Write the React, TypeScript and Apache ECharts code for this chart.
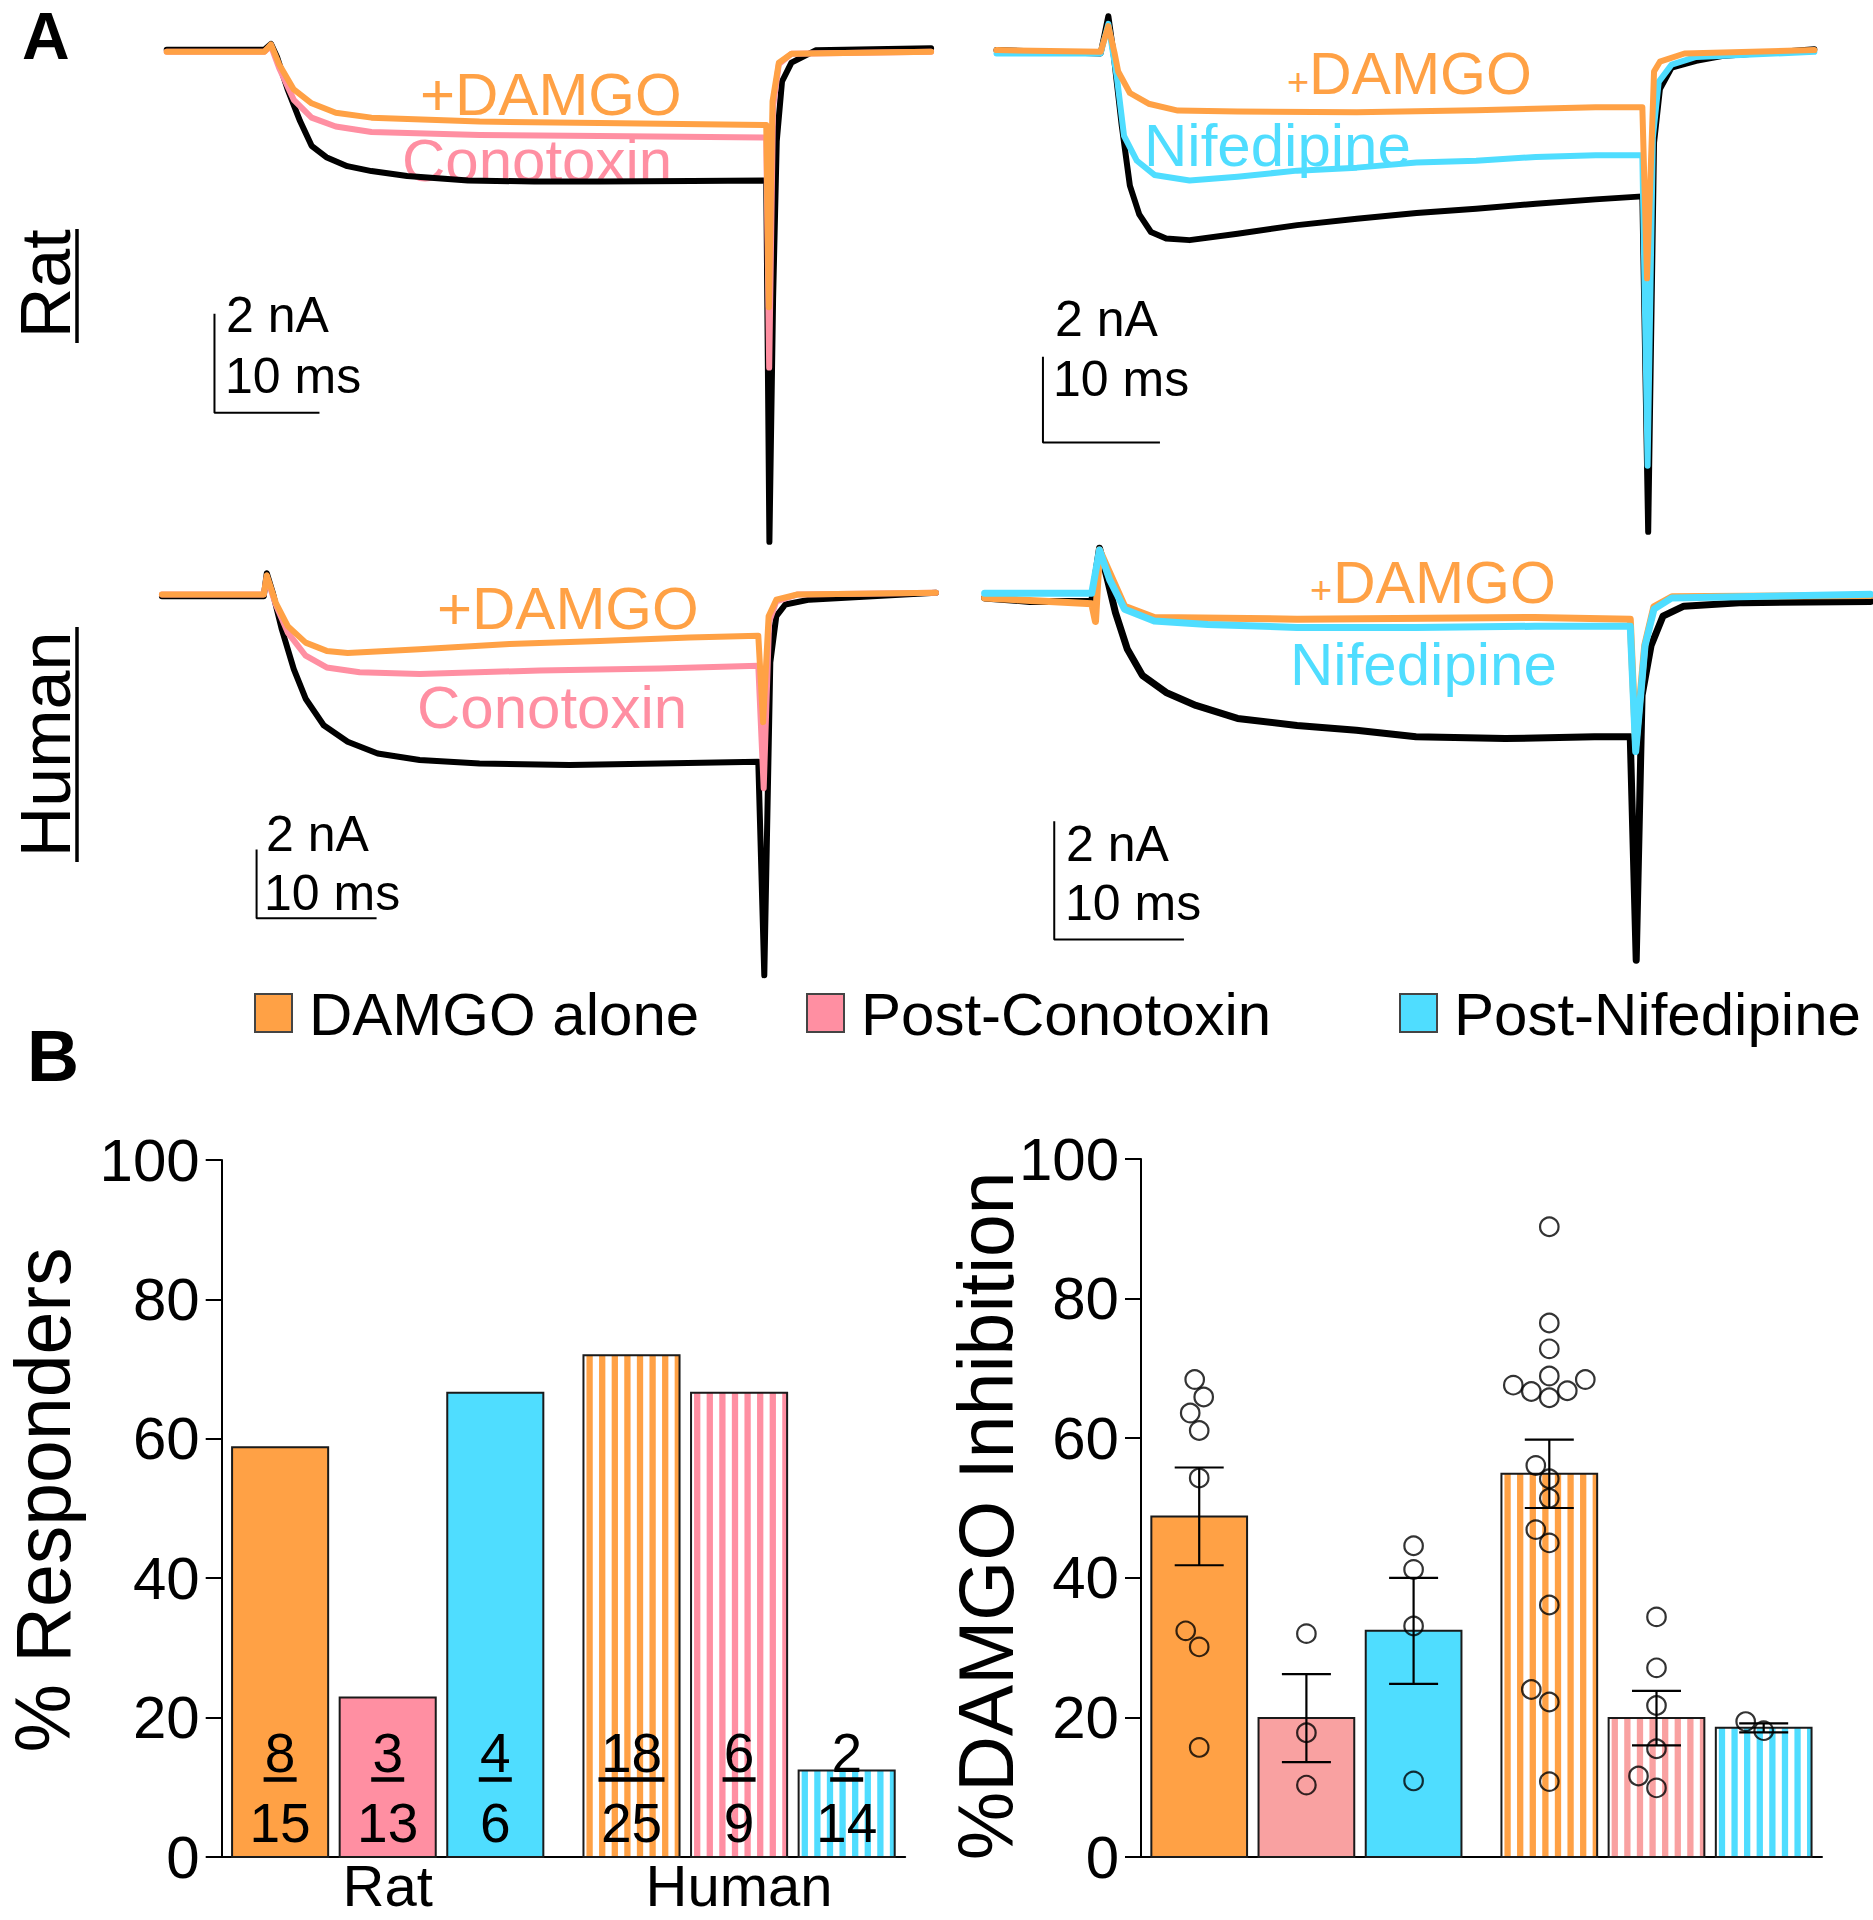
import React, { useEffect, useRef } from "react";
import * as echarts from "echarts";

const W = 1873;
const H = 1920;
const FONT = '"Liberation Sans", Arial, Helvetica, sans-serif';
const CENTRAL = 0.3465; // central baseline above alphabetic baseline (em)
const ORANGE = "#FFA145";
const PINK = "#FF8FA2";
const PINK_LIGHT = "#F9A1A1";
const CYAN = "#4FDDFF";
const BLACK = "#000000";

type Pt = [number, number];

// ---------------- Panel A: current traces (time in ms, current in nA) ----------------
const ratConoBlack: Pt[] = [[0,0.04],[9.3,0.04],[9.93,0.16],[10.5,-0.1],[11.5,-0.75],[12.7,-1.4],[13.8,-1.9],[15.2,-2.13],[17.2,-2.31],[19.5,-2.41],[22.9,-2.51],[28.7,-2.6],[35,-2.62],[41.2,-2.62],[50,-2.61],[57.1,-2.6],[57.4,-9.9],[57.75,-5.0],[58.1,-1.8],[58.6,-0.6],[59.5,-0.22],[61.8,0.03],[72.8,0.07]];
const ratConoPink: Pt[] = [[0,0],[9.3,0],[9.93,0.12],[10.7,-0.32],[12.1,-0.97],[13.8,-1.33],[16.1,-1.51],[19.5,-1.62],[29.8,-1.68],[41.2,-1.7],[57.1,-1.73],[57.38,-6.38],[57.75,-1.1],[58.3,-0.25],[59.5,-0.04],[72.8,0]];
const ratConoOrange: Pt[] = [[0,0],[9.3,0],[9.93,0.15],[10.7,-0.25],[12.1,-0.76],[13.8,-1.04],[16.1,-1.23],[19.5,-1.33],[29.8,-1.41],[41.2,-1.44],[57.1,-1.48],[57.35,-5.16],[57.7,-1.0],[58.3,-0.22],[59.5,-0.04],[72.8,0]];

const ratNifBlack: Pt[] = [[0,0.04],[8.9,-0.04],[9.56,0.83],[10.0,-0.04],[10.7,-1.71],[11.4,-3.12],[12.2,-3.79],[13.2,-4.2],[14.5,-4.35],[16.5,-4.39],[20.6,-4.24],[25.7,-4.04],[30.8,-3.89],[35.9,-3.76],[41.0,-3.66],[46.1,-3.54],[51.2,-3.44],[55.2,-3.37],[55.7,-11.19],[56.2,-2.12],[56.7,-0.87],[57.7,-0.37],[59.8,-0.21],[62,-0.1],[69.9,0.06]];
const ratNifCyan: Pt[] = [[0,-0.04],[8.9,-0.04],[9.56,0.65],[10.3,-0.62],[10.9,-1.96],[12.0,-2.54],[13.5,-2.87],[16.5,-3.0],[20.6,-2.91],[25.7,-2.77],[30.8,-2.7],[35.9,-2.58],[41.0,-2.54],[46.1,-2.45],[51.2,-2.41],[55.2,-2.41],[55.65,-9.65],[56.1,-2.0],[56.6,-0.7],[57.7,-0.3],[59.8,-0.12],[69.9,0]];
const ratNifOrange: Pt[] = [[0,0.04],[8.9,0],[9.56,0.6],[10.1,-0.04],[10.4,-0.46],[11.4,-0.96],[13.0,-1.21],[15.5,-1.37],[20.6,-1.39],[30.8,-1.41],[41.0,-1.36],[51.2,-1.29],[55.2,-1.29],[55.6,-5.28],[56.2,-0.46],[56.7,-0.23],[58.8,-0.04],[69.9,0.04]];

const humConoBlack: Pt[] = [[0,-0.05],[8.49,-0.05],[8.74,0.62],[9.24,0.05],[9.99,-1.01],[10.99,-2.17],[11.98,-3.03],[13.48,-3.8],[15.48,-4.28],[17.98,-4.62],[21.48,-4.81],[26.47,-4.91],[33.97,-4.96],[41.47,-4.91],[49.7,-4.86],[50.2,-11.07],[50.7,-1.97],[51.2,-0.63],[51.95,-0.29],[53.95,-0.15],[64.5,0.05]];
const humConoPink: Pt[] = [[0,0],[8.49,0],[8.74,0.5],[9.49,-0.29],[10.49,-1.11],[11.98,-1.78],[13.73,-2.12],[16.48,-2.26],[21.48,-2.31],[31.47,-2.21],[41.47,-2.15],[49.7,-2.07],[50.15,-5.63],[50.6,-0.8],[51.2,-0.2],[52.95,0],[64.5,0.05]];
const humConoOrange: Pt[] = [[0,0],[8.49,0],[8.74,0.56],[9.49,-0.24],[10.49,-0.92],[11.98,-1.4],[13.73,-1.64],[15.48,-1.7],[21.48,-1.59],[28.97,-1.44],[36.47,-1.35],[43.96,-1.25],[49.7,-1.2],[50.1,-3.71],[50.56,-0.63],[51.2,-0.15],[52.95,0],[64.5,0.05]];

const humNifBlack: Pt[] = [[0,0],[3.49,-0.06],[8.26,-0.06],[8.86,0.84],[9.41,0.37],[10.09,-0.25],[11.01,-0.87],[12.16,-1.31],[13.99,-1.6],[16.29,-1.82],[19.5,-2.04],[24.09,-2.16],[28.67,-2.24],[33.26,-2.35],[40.15,-2.38],[47.02,-2.35],[49.78,-2.35],[50.24,-6.13],[50.69,-1.65],[51.38,-0.81],[52.3,-0.31],[53.91,-0.14],[58.5,-0.08],[68.3,-0.06]];
const humNifOrange: Pt[] = [[0,0],[8.26,-0.1],[8.55,-0.4],[8.86,0.81],[10.79,-0.14],[13.08,-0.33],[24.09,-0.36],[42.44,-0.33],[49.78,-0.36],[50.2,-2.5],[50.9,-0.8],[51.6,-0.15],[53,0.02],[68.3,0.04]];
const humNifCyan: Pt[] = [[0,0.08],[8.26,0.08],[8.86,0.81],[9.64,0.31],[10.79,-0.19],[13.08,-0.39],[17.21,-0.45],[24.09,-0.5],[33.26,-0.5],[42.44,-0.48],[49.78,-0.48],[50.2,-2.6],[50.92,-0.81],[51.61,-0.19],[52.99,0],[68.3,0.06]];

const scaleBarNA = 2;
const scaleBarMs = 10;

// ---------------- Panel B data ----------------
const speciesLabels = ["Rat", "Human"];
const conditionLabels = ["DAMGO alone", "Post-Conotoxin", "Post-Nifedipine"];
const responderPercent = [58.8, 22.9, 66.6, 72.0, 66.6, 12.4];
const responderCount = ["8", "3", "4", "18", "6", "2"];
const testedCount = ["15", "13", "6", "25", "9", "14"];
const inhibitionMean = [48.8, 19.9, 32.4, 54.9, 19.9, 18.5];
const inhibitionSem = [7.0, 6.3, 7.6, 4.9, 3.9, 0.65];
const inhibitionRatDamgo = [65.9, 63.6, 68.4, 61.1, 54.3, 32.4, 30.1, 15.7];
const inhibitionRatCono = [32.0, 17.8, 10.3];
const inhibitionRatNif = [44.6, 41.2, 33.1, 10.9];
const inhibitionHumDamgo = [90.3, 76.5, 72.8, 68.4, 68.9, 66.8, 65.8, 66.7, 67.6, 56.1, 54.2, 51.4, 46.9, 45.0, 36.1, 24.0, 22.2, 10.8];
const inhibitionHumCono = [34.4, 27.1, 21.7, 15.5, 9.9, 11.6];
const inhibitionHumNif = [18.1, 19.4];
const inhibitionPoints = [inhibitionRatDamgo, inhibitionRatCono, inhibitionRatNif, inhibitionHumDamgo, inhibitionHumCono, inhibitionHumNif];

// ---------------- layout ----------------
const SLOT_GAP = 0.266;
const X_MIN = -0.543;
const X_MAX = 5.81;
const BAR_FRAC = 0.893;
const STRIPE_PERIOD = 12.6;
const STRIPE_WIDTH = 6.3;
const STRIPE_PHASE = 3;
const SWARM_STEP = 4.5;
const SWARM_MIN = 18.5;
const slotPos = (i: number) => i + (i >= 3 ? SLOT_GAP : 0);

const tracePanels = [
  { x0: 166.7, y0: 51.8, pxMs: 10.5, pxNA: 49.5, tMax: 73, nMin: -10.2, nMax: 0.6, bar: [4.55, -7.29], width: 6,
    traces: [[ratConoBlack, BLACK], [ratConoPink, PINK], [ratConoOrange, ORANGE]] },
  { x0: 996.5, y0: 51.8, pxMs: 11.7, pxNA: 42.9, tMax: 70.5, nMin: -11.6, nMax: 1.1, bar: [3.97, -9.11], width: 6,
    traces: [[ratNifBlack, BLACK], [ratNifCyan, CYAN], [ratNifOrange, ORANGE]] },
  { x0: 161.9, y0: 594.5, pxMs: 12.0, pxNA: 34.4, tMax: 65, nMin: -11.4, nMax: 1.0, bar: [7.89, -9.41], width: 6,
    traces: [[humConoBlack, BLACK], [humConoPink, PINK], [humConoOrange, ORANGE]] },
  { x0: 984.6, y0: 597.9, pxMs: 12.97, pxNA: 59.1, tMax: 68.4, nMin: -6.4, nMax: 1.0, bar: [5.37, -5.78], width: 7,
    traces: [[humNifBlack, BLACK], [humNifOrange, ORANGE], [humNifCyan, CYAN]] },
];

const gridBL = { left: 221.7, top: 1160, width: 683.5, height: 697 };
const gridBR = { left: 1141, top: 1159, width: 681, height: 698 };

function textStyle(text: string, size: number, color: string, align: string, weight = "normal") {
  return {
    text, fill: color, fontSize: size, fontFamily: FONT, fontWeight: weight,
    align, textAlign: align, verticalAlign: "middle", textVerticalAlign: "middle",
  };
}

function textAt(text: string, x: number, baseline: number, size: number, color = BLACK, align = "left", weight = "normal", z = 10) {
  return { type: "text", x, y: baseline - CENTRAL * size, z, style: textStyle(text, size, color, align, weight) };
}

function rotatedText(text: string, baselineX: number, centerY: number, size: number) {
  return { type: "text", x: baselineX - CENTRAL * size, y: centerY, rotation: Math.PI / 2, z: 10,
    style: textStyle(text, size, BLACK, "center") };
}

function swarmOffsets(values: number[], pxPerUnit: number): number[] {
  const order = values.map((_, i) => i).sort((a, b) => values[a] - values[b]);
  const placed: { x: number; y: number }[] = [];
  const out = new Array(values.length).fill(0);
  for (const i of order) {
    const y = values[i] * pxPerUnit;
    for (let k = 0; k < 60; k++) {
      const cand = (k % 2 === 1 ? -1 : 1) * Math.ceil(k / 2) * SWARM_STEP;
      if (placed.every((p) => Math.hypot(p.x - cand, p.y - y) >= SWARM_MIN)) {
        out[i] = cand;
        placed.push({ x: cand, y });
        break;
      }
    }
  }
  return out;
}

function barRenderer(colors: string[]) {
  return (params: any, api: any) => {
    const i = params.dataIndex;
    const x = api.value(0);
    const v = api.value(1);
    const base = api.coord([x, 0]);
    const top = api.coord([x, v]);
    const w = api.size([1, 0])[0] * BAR_FRAC;
    const left = base[0] - w / 2;
    const h = base[1] - top[1];
    const striped = i >= 3;
    const color = colors[i % 3];
    const children: any[] = [
      { type: "rect", shape: { x: left, y: top[1], width: w, height: h }, style: { fill: striped ? "#ffffff" : color } },
    ];
    if (striped) {
      for (let sx = left + STRIPE_PHASE; sx < left + w - 0.5; sx += STRIPE_PERIOD) {
        const sw = Math.min(STRIPE_WIDTH, left + w - sx);
        children.push({ type: "rect", shape: { x: sx, y: top[1], width: sw, height: h }, style: { fill: color } });
      }
    }
    children.push({ type: "rect", shape: { x: left, y: top[1], width: w, height: h }, style: { fill: "none", stroke: "#1a1a1a", lineWidth: 2 } });
    return { type: "group", children };
  };
}

function buildOption() {
  const grid: any[] = [];
  const xAxis: any[] = [];
  const yAxis: any[] = [];
  const series: any[] = [];

  tracePanels.forEach((p, gi) => {
    grid.push({ left: p.x0, top: p.y0 - p.nMax * p.pxNA, width: p.tMax * p.pxMs, height: (p.nMax - p.nMin) * p.pxNA });
    xAxis.push({ type: "value", gridIndex: gi, min: 0, max: p.tMax, show: false });
    yAxis.push({ type: "value", gridIndex: gi, min: p.nMin, max: p.nMax, show: false });
    p.traces.forEach(([data, color]: any) => {
      series.push({
        type: "line", xAxisIndex: gi, yAxisIndex: gi, data, showSymbol: false, symbol: "none", clip: false, z: 5,
        lineStyle: { color, width: p.width, join: "round", cap: "round" }, silent: true,
      });
    });
    const [bt, bv] = p.bar;
    series.push({
      type: "line", xAxisIndex: gi, yAxisIndex: gi, showSymbol: false, symbol: "none", clip: false, z: 5, silent: true,
      data: [[bt, bv + scaleBarNA], [bt, bv], [bt + scaleBarMs, bv]],
      lineStyle: { color: BLACK, width: 2 },
    });
  });

  // Panel B grids
  [gridBL, gridBR].forEach((g, k) => {
    const gi = 4 + k;
    grid.push({ ...g });
    xAxis.push({
      type: "value", gridIndex: gi, min: X_MIN, max: X_MAX,
      axisLine: { show: true, onZero: false, lineStyle: { color: BLACK, width: 2 } },
      axisTick: { show: false }, axisLabel: { show: false }, splitLine: { show: false },
    });
    yAxis.push({
      type: "value", gridIndex: gi, min: 0, max: 100, interval: 20,
      axisLine: { show: true, onZero: false, lineStyle: { color: BLACK, width: 2 } },
      axisTick: { show: true, length: 16, lineStyle: { color: BLACK, width: 2 } },
      axisLabel: { fontSize: 60, color: BLACK, fontFamily: FONT, margin: 22 },
      splitLine: { show: false },
    });
  });

  // % responders bars
  series.push({
    type: "custom", name: "% Responders", xAxisIndex: 4, yAxisIndex: 4, z: 2, clip: false,
    data: responderPercent.map((v, i) => [slotPos(i), v]),
    renderItem: barRenderer([ORANGE, PINK, CYAN]),
  });
  // fraction labels
  series.push({
    type: "custom", xAxisIndex: 4, yAxisIndex: 4, z: 6, clip: false, silent: true,
    data: responderPercent.map((v, i) => [slotPos(i), v]),
    renderItem: (params: any, api: any) => {
      const i = params.dataIndex;
      const base = api.coord([api.value(0), 0]);
      const num = responderCount[i];
      const den = testedCount[i];
      const lw = num.length * 33;
      return {
        type: "group",
        children: [
          { type: "text", x: base[0], y: base[1] - 85 - CENTRAL * 55, style: textStyle(num, 55, BLACK, "center") },
          { type: "rect", shape: { x: base[0] - lw / 2, y: base[1] - 79.8, width: lw, height: 4.5 }, style: { fill: BLACK } },
          { type: "text", x: base[0], y: base[1] - 15 - CENTRAL * 55, style: textStyle(den, 55, BLACK, "center") },
        ],
      };
    },
  });
  // species labels under responders chart
  series.push({
    type: "custom", xAxisIndex: 4, yAxisIndex: 4, z: 6, clip: false, silent: true,
    data: speciesLabels.map((_, k) => [(slotPos(k * 3) + slotPos(k * 3 + 2)) / 2, 0]),
    renderItem: (params: any, api: any) => {
      const base = api.coord([api.value(0), 0]);
      return { type: "text", x: base[0], y: base[1] + 49 - CENTRAL * 58, style: textStyle(speciesLabels[params.dataIndex], 58, BLACK, "center") };
    },
  });

  // % inhibition bars
  series.push({
    type: "custom", name: "%DAMGO Inhibition", xAxisIndex: 5, yAxisIndex: 5, z: 2, clip: false,
    data: inhibitionMean.map((v, i) => [slotPos(i), v]),
    renderItem: barRenderer([ORANGE, PINK_LIGHT, CYAN]),
  });
  // error bars
  series.push({
    type: "custom", xAxisIndex: 5, yAxisIndex: 5, z: 3, clip: false, silent: true,
    data: inhibitionMean.map((v, i) => [slotPos(i), v, inhibitionSem[i]]),
    renderItem: (params: any, api: any) => {
      const x = api.value(0), m = api.value(1), s = api.value(2);
      const hi = api.coord([x, m + s]);
      const lo = api.coord([x, m - s]);
      const cw = 24.5;
      const st = { stroke: BLACK, lineWidth: 2.2 };
      return {
        type: "group",
        children: [
          { type: "line", shape: { x1: hi[0], y1: hi[1], x2: lo[0], y2: lo[1] }, style: st },
          { type: "line", shape: { x1: hi[0] - cw, y1: hi[1], x2: hi[0] + cw, y2: hi[1] }, style: st },
          { type: "line", shape: { x1: lo[0] - cw, y1: lo[1], x2: lo[0] + cw, y2: lo[1] }, style: st },
        ],
      };
    },
  });
  // individual points
  const pxPerUnit = gridBR.height / 100;
  const slotPx = gridBR.width / (X_MAX - X_MIN);
  const pts: number[][] = [];
  inhibitionPoints.forEach((vals, i) => {
    const offs = swarmOffsets(vals, pxPerUnit);
    vals.forEach((v, j) => pts.push([slotPos(i) + offs[j] / slotPx, v]));
  });
  series.push({
    type: "scatter", xAxisIndex: 5, yAxisIndex: 5, z: 4, data: pts, symbol: "circle", symbolSize: 18.5, silent: true,
    itemStyle: { color: "rgba(255,255,255,0)", borderColor: BLACK, borderWidth: 2.2 },
  });

  // graphic texts
  const elements: any[] = [
    textAt("A", 22, 59, 66, BLACK, "left", "bold"),
    textAt("B", 27, 1081, 72, BLACK, "left", "bold"),
    rotatedText("Rat", 70, 283.8, 70),
    { type: "line", z: 10, shape: { x1: 77, y1: 229, x2: 77, y2: 343 }, style: { stroke: BLACK, lineWidth: 3.5 } },
    rotatedText("Human", 70, 744.5, 70),
    { type: "line", z: 10, shape: { x1: 77, y1: 627, x2: 77, y2: 862 }, style: { stroke: BLACK, lineWidth: 3.5 } },
    // trace labels
    textAt("+DAMGO", 420, 115, 60, ORANGE),
    textAt("Conotoxin", 402, 181, 60, PINK, "left", "normal", 1),
    textAt("+", 1287, 95, 38, ORANGE),
    textAt("DAMGO", 1309, 94, 59, ORANGE),
    textAt("Nifedipine", 1144, 166, 60, CYAN, "left", "normal", 1),
    textAt("+DAMGO", 437, 629, 60, ORANGE),
    textAt("Conotoxin", 417, 728, 60, PINK),
    textAt("+", 1310, 603, 38, ORANGE),
    textAt("DAMGO", 1333, 603, 59, ORANGE),
    textAt("Nifedipine", 1290, 685, 60, CYAN),
    // scale bar texts
    textAt("2 nA", 226, 332, 50), textAt("10 ms", 225, 393, 50),
    textAt("2 nA", 1055, 336, 50), textAt("10 ms", 1053, 396, 50),
    textAt("2 nA", 266, 851, 50), textAt("10 ms", 264, 910, 50),
    textAt("2 nA", 1066, 861, 50), textAt("10 ms", 1065, 920, 50),
    // axis titles
    rotatedText("% Responders", 70, 1500, 77),
    rotatedText("%DAMGO Inhibition", 1013, 1515.8, 77),
  ];
  // legend
  const legendX = [255, 807, 1400];
  const legendColors = [ORANGE, PINK, CYAN];
  conditionLabels.forEach((label, k) => {
    elements.push({ type: "rect", z: 10, shape: { x: legendX[k], y: 994, width: 37, height: 38 }, style: { fill: legendColors[k], stroke: "#444", lineWidth: 2 } });
    elements.push(textAt(label, legendX[k] + 54, 1035, 60));
  });

  return {
    backgroundColor: "#ffffff",
    animation: false,
    grid, xAxis, yAxis, series,
    graphic: { elements },
  };
}

export default function App() {
  const ref = useRef<HTMLDivElement>(null);
  useEffect(() => {
    if (!ref.current) return;
    const chart = echarts.init(ref.current, undefined, { renderer: "svg", width: W, height: H });
    chart.setOption(buildOption() as any);
    return () => chart.dispose();
  }, []);
  return <div ref={ref} style={{ position: "absolute", left: 0, top: 0, width: W, height: H, background: "#fff" }} />;
}
